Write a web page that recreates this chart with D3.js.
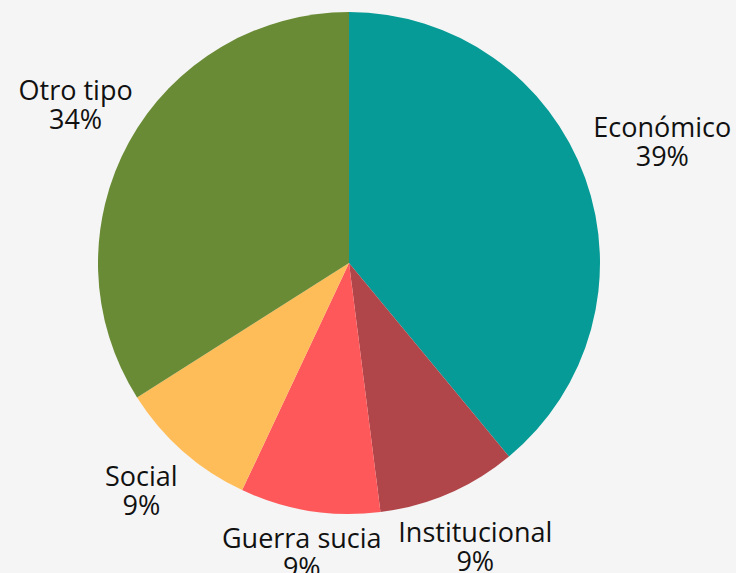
<!DOCTYPE html>
<html>
<head>
<meta charset="utf-8">
<script src="https://cdn.jsdelivr.net/npm/d3@7"></script>
<style>
  html, body { margin: 0; padding: 0; background: #f5f5f5; }
  svg { display: block; }
  .slice-label { font-family: "Open Sans", "DejaVu Sans", sans-serif; font-size: 27px; fill: #111; }
</style>
</head>
<body>
<div id="chart"></div>
<script>
const categories = ["Económico", "Institucional", "Guerra sucia", "Social", "Otro tipo"];
const shares = [39, 9, 9, 9, 34];
const sliceColors = ["#069b96", "#b0454a", "#ff585a", "#ffbd59", "#6a8b35"];

// label distance from center, per slice (layout only)
const labelRadius = [333, 318, 302, 314, 312];

const width = 736, height = 573;
const cx = 349, cy = 263, radius = 251;

const data = categories.map((c, i) => ({ name: c, value: shares[i], color: sliceColors[i], lr: labelRadius[i] }));

const svg = d3.select("#chart").append("svg")
  .attr("width", width).attr("height", height)
  .style("background", "#f5f5f5");

const g = svg.append("g").attr("transform", `translate(${cx},${cy})`);

const pie = d3.pie().value(d => d.value).sort(null);
const arc = d3.arc().innerRadius(0).outerRadius(radius);
const arcs = pie(data);

g.selectAll("path.slice")
  .data(arcs).join("path")
  .attr("class", "slice")
  .attr("d", arc)
  .attr("fill", d => d.data.color);

const labels = g.selectAll("g.label")
  .data(arcs).join("g")
  .attr("class", "label")
  .attr("transform", d => {
    const a = (d.startAngle + d.endAngle) / 2;
    const r = d.data.lr;
    return `translate(${Math.sin(a) * r},${-Math.cos(a) * r})`;
  });

// two-line label: name, then share
labels.append("text")
  .attr("class", "slice-label")
  .attr("text-anchor", "middle")
  .attr("y", -13)
  .text(d => d.data.name);

labels.append("text")
  .attr("class", "slice-label")
  .attr("text-anchor", "middle")
  .attr("y", 16)
  .text(d => d.data.value + "%");
</script>
</body>
</html>
